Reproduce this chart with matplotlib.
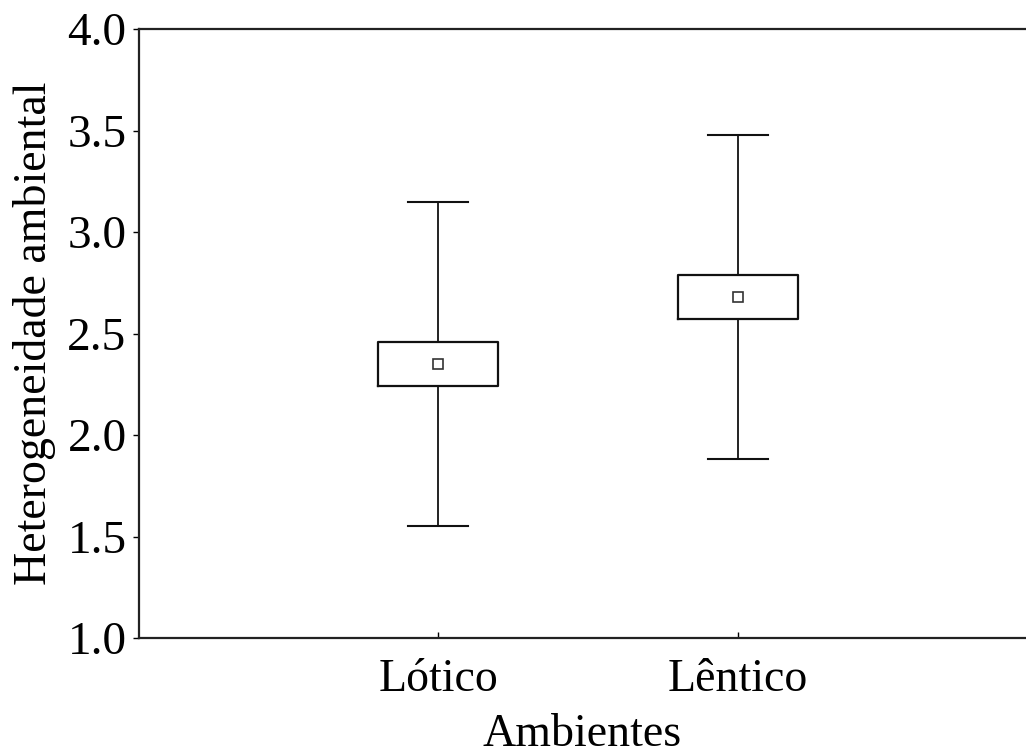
import matplotlib.pyplot as plt

plt.rcParams['font.family'] = ['Liberation Serif', 'DejaVu Serif']

# dados (média, erro padrão, desvio)
groups = ['Lótico', 'Lêntico']
means = [2.35, 2.68]
box_low = [2.24, 2.57]
box_high = [2.46, 2.79]
whisk_low = [1.55, 1.88]
whisk_high = [3.15, 3.48]

fig = plt.figure(figsize=(10.26, 7.56), dpi=100)
ax = fig.add_axes([139 / 1026, 118 / 756, 887 / 1026, 609 / 756])

stats = []
for i in range(len(groups)):
    stats.append({
        'med': means[i], 'mean': means[i],
        'q1': box_low[i], 'q3': box_high[i],
        'whislo': whisk_low[i], 'whishi': whisk_high[i],
        'fliers': [], 'label': groups[i],
    })

lc = '#111111'
ax.bxp(stats, positions=[1, 2], widths=0.4, showmeans=True, showfliers=False,
       boxprops=dict(color=lc, linewidth=1.6),
       whiskerprops=dict(color=lc, linewidth=1.3),
       capprops=dict(color=lc, linewidth=1.5),
       capwidths=0.2,
       medianprops=dict(linewidth=0),
       meanprops=dict(marker='s', markerfacecolor='white', markeredgecolor='#333333',
                      markersize=7, markeredgewidth=1.2))

ax.set_xlim(0, 2.963)
ax.set_ylim(1.0, 4.0)
ax.set_yticks([1.0, 1.5, 2.0, 2.5, 3.0, 3.5, 4.0])
ax.set_yticklabels(['1.0', '1.5', '2.0', '2.5', '3.0', '3.5', '4.0'])

ax.spines['right'].set_visible(False)
for s in ['left', 'bottom', 'top']:
    ax.spines[s].set_linewidth(1.6)
    ax.spines[s].set_color('#222222')

ax.tick_params(axis='y', direction='out', length=4, width=1, pad=5, labelsize=34)
ax.tick_params(axis='x', direction='in', length=4, width=1, pad=15, labelsize=33)

ax.set_xlabel('Ambientes', fontsize=33, va='baseline')
ax.xaxis.set_label_coords(0.5, -(746 - 638) / 609)
ax.set_ylabel('Heterogeneidade ambiental', fontsize=33, va='baseline')
ax.yaxis.set_label_coords(-(139 - 46) / 887, 0.5)

fig.savefig('out.png', dpi=100)
